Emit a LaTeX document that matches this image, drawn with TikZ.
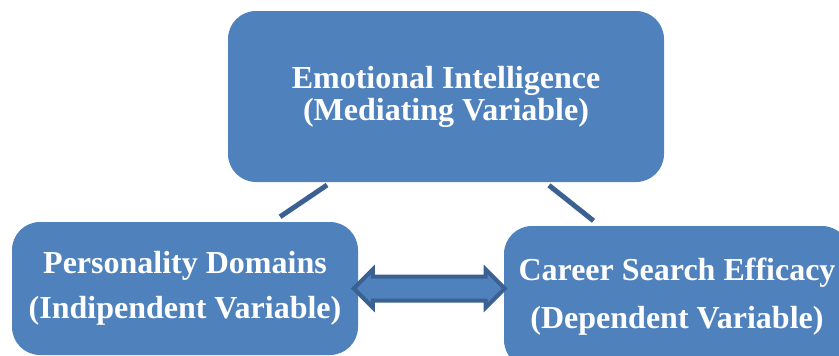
\documentclass[tikz,border=0pt]{standalone}
\usepackage{fontspec}
\setmainfont{Liberation Serif}
\usetikzlibrary{shapes.arrows, calc}
\definecolor{boxblue}{HTML}{4F81BD}
\definecolor{lineblue}{HTML}{3A6192}
\tikzstyle{varbox} = [rectangle, rounded corners=28pt, fill=boxblue, text=white, font=\bfseries\fontsize{32}{32}\selectfont, align=center, inner sep=0]
\tikzstyle{link} = [line width=5pt, draw=lineblue]
\tikzstyle{bothway} = [double arrow, draw=lineblue, line width=4pt, fill=boxblue, inner sep=10pt, minimum width=38pt, minimum height=151pt]

\begin{document}
\begin{tikzpicture}[x=1pt,y=-1pt]
\useasboundingbox (0,0) rectangle (839,356);
\clip (0,0) rectangle (839,356);

% the three variables
\node[varbox, minimum width=436pt, minimum height=171pt] (emo) at (446,96.5) {Emotional Intelligence\\(Mediating Variable)};
\node[varbox, minimum width=346pt, minimum height=133pt] (pers) at (185,288.5) {Personality Domains\\[13pt](Indipendent Variable)};
\node[varbox, minimum width=346pt, minimum height=142pt] (career) at (677,297) {Career Search Efficacy\\[16pt](Dependent Variable)};

% links to the mediator
\draw[link, shorten <=9pt, shorten >=5pt] ($(pers.north west)!0.753!(pers.north east)$) -- ($(emo.south west)!0.237!(emo.south east)$);
\draw[link, shorten <=5pt, shorten >=8pt] ($(emo.south west)!0.727!(emo.south east)$) -- ($(career.north west)!0.277!(career.north east)$);

% two-way arrow
\node[bothway] (both) at ($(pers.east)+(71,0)$) {};
\end{tikzpicture}
\end{document}
